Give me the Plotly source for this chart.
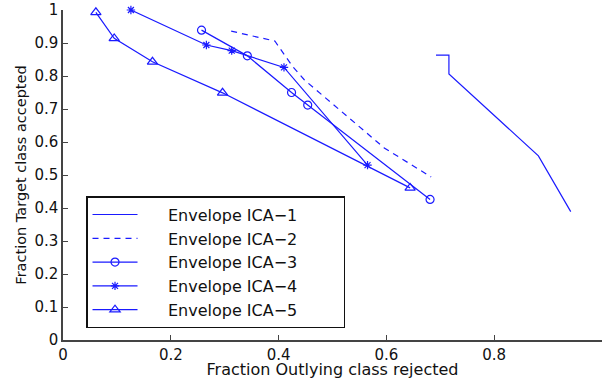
import plotly.graph_objects as go

# Data
ica1_x = [0.692, 0.716, 0.716, 0.882, 0.942]
ica1_y = [0.863, 0.863, 0.806, 0.558, 0.389]

ica2_x = [0.312, 0.393, 0.426, 0.448, 0.596, 0.683]
ica2_y = [0.936, 0.906, 0.829, 0.788, 0.582, 0.494]

ica3_x = [0.257, 0.342, 0.424, 0.454, 0.681]
ica3_y = [0.939, 0.861, 0.750, 0.712, 0.426]

ica4_x = [0.126, 0.266, 0.313, 0.410, 0.565]
ica4_y = [1.000, 0.894, 0.877, 0.826, 0.530]

ica5_x = [0.061, 0.095, 0.166, 0.296, 0.644]
ica5_y = [0.993, 0.914, 0.843, 0.749, 0.461]

names = ["Envelope ICA−1", "Envelope ICA−2", "Envelope ICA−3",
         "Envelope ICA−4", "Envelope ICA−5"]

x_title = "Fraction Outlying class rejected"
y_title = "Fraction Target class accepted"

BLUE = "#1a1aff"
PAD_L = "\u00a0" * 5
PAD_R = "\u00a0" * 8

fig = go.Figure()
fig.add_trace(go.Scatter(x=ica1_x, y=ica1_y, mode="lines", name=PAD_L + names[0] + PAD_R,
                         line=dict(color=BLUE, width=1.2)))
fig.add_trace(go.Scatter(x=ica2_x, y=ica2_y, mode="lines", name=PAD_L + names[1] + PAD_R,
                         line=dict(color=BLUE, width=1.2, dash="6px,5px")))
fig.add_trace(go.Scatter(x=ica3_x, y=ica3_y, mode="lines+markers", name=PAD_L + names[2] + PAD_R,
                         line=dict(color=BLUE, width=1.2),
                         marker=dict(symbol="circle-open", size=8, color=BLUE,
                                     line=dict(width=1.2, color=BLUE))))
fig.add_trace(go.Scatter(x=ica4_x, y=ica4_y, mode="lines+markers", name=PAD_L + names[3] + PAD_R,
                         line=dict(color=BLUE, width=1.2),
                         marker=dict(symbol="asterisk-open", size=7, color=BLUE,
                                     line=dict(width=1.2, color=BLUE))))
fig.add_trace(go.Scatter(x=ica5_x, y=ica5_y, mode="lines+markers", name=PAD_L + names[4] + PAD_R,
                         line=dict(color=BLUE, width=1.2),
                         marker=dict(symbol="triangle-up-open", size=9, color=BLUE,
                                     line=dict(width=1.2, color=BLUE))))
fig.update_traces(cliponaxis=False)

axis_common = dict(
    showgrid=False, zeroline=False, showline=True, linecolor="#444", linewidth=1.5,
    ticks="inside", ticklen=5, tickcolor="#444", tickwidth=1,
    tickfont=dict(family="DejaVu Sans", size=15, color="#111"),
    mirror=False, automargin=False,
)

fig.update_layout(
    width=602, height=379,
    margin=dict(l=63, r=0, t=10, b=39),
    paper_bgcolor="white", plot_bgcolor="white",
    font=dict(family="DejaVu Sans", color="#111"),
    xaxis=dict(range=[0, 1], dtick=0.2, tick0=0,
               title=dict(text=x_title, font=dict(size=16), standoff=0),
               **axis_common),
    yaxis=dict(range=[0, 1], dtick=0.1, tick0=0,
               title=dict(text=y_title, font=dict(size=14.5), standoff=4),
               **axis_common),
    legend=dict(x=0.0427, y=0.236, xanchor="left", yanchor="middle",
                bgcolor="white", bordercolor="#111", borderwidth=1.5,
                font=dict(family="DejaVu Sans", size=16, color="#111"),
                itemwidth=45, tracegroupgap=0),
    showlegend=True,
)

fig.write_html("out.html", config={"displayModeBar": False},
               post_script="document.body.style.margin='0';document.body.style.overflow='hidden';")
